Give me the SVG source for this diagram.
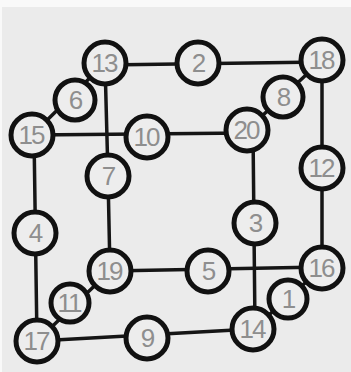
<svg xmlns="http://www.w3.org/2000/svg" width="351" height="372" viewBox="0 0 351 372">
<style>
.bg{fill:#ebebeb}
.e{stroke:#151515;stroke-width:3.5;stroke-linecap:round}
.n circle{fill:#ededed;stroke:#111;stroke-width:5}
.n text{font-family:"Liberation Sans",Arial,sans-serif;font-size:26px;fill:#8e8e8e;text-anchor:middle;dominant-baseline:central;letter-spacing:-2px}
</style>
<rect class="bg" x="0" y="0" width="351" height="372"/>
<rect x="0" y="0" width="351" height="7" fill="#f9f9f9"/>
<rect x="0" y="0" width="2" height="372" fill="#f9f9f9"/>
<g id="edges">
<line class="e" x1="105" y1="65" x2="322" y2="62"/>
<line class="e" x1="105" y1="63" x2="32" y2="135"/>
<line class="e" x1="322" y1="60" x2="247" y2="130"/>
<line class="e" x1="32" y1="135" x2="247" y2="133"/>
<line class="e" x1="105" y1="63" x2="108" y2="176"/>
<line class="e" x1="108" y1="176" x2="110" y2="271"/>
<line class="e" x1="322" y1="60" x2="322" y2="268"/>
<line class="e" x1="253" y1="130" x2="255" y2="329"/>
<line class="e" x1="34" y1="135" x2="37" y2="341"/>
<line class="e" x1="110" y1="271" x2="322" y2="267"/>
<line class="e" x1="110" y1="271" x2="37" y2="341"/>
<line class="e" x1="322" y1="268" x2="253" y2="329"/>
<line class="e" x1="37" y1="341" x2="253" y2="329"/>
</g>
<g id="n13" class="n"><circle cx="105" cy="63" r="21"/><text x="104" y="63">13</text></g>
<g id="n2" class="n"><circle cx="198" cy="63" r="21"/><text x="198" y="63">2</text></g>
<g id="n18" class="n"><circle cx="322" cy="60" r="21"/><text x="321" y="60">18</text></g>
<g id="n6" class="n"><circle cx="75" cy="100" r="20"/><text x="75" y="100">6</text></g>
<g id="n8" class="n"><circle cx="283" cy="97" r="20"/><text x="283" y="97">8</text></g>
<g id="n15" class="n"><circle cx="32" cy="135" r="21"/><text x="31" y="135">15</text></g>
<g id="n10" class="n"><circle cx="147" cy="137" r="21"/><text x="146" y="137">10</text></g>
<g id="n20" class="n"><circle cx="247" cy="130" r="21"/><text x="246" y="130">20</text></g>
<g id="n12" class="n"><circle cx="322" cy="168" r="21"/><text x="321" y="168">12</text></g>
<g id="n7" class="n"><circle cx="108" cy="176" r="21"/><text x="108" y="176">7</text></g>
<g id="n4" class="n"><circle cx="35" cy="233" r="21"/><text x="35" y="233">4</text></g>
<g id="n3" class="n"><circle cx="255" cy="223" r="21"/><text x="255" y="223">3</text></g>
<g id="n19" class="n"><circle cx="110" cy="271" r="21"/><text x="109" y="271">19</text></g>
<g id="n5" class="n"><circle cx="208" cy="271" r="21"/><text x="208" y="271">5</text></g>
<g id="n16" class="n"><circle cx="322" cy="268" r="21"/><text x="321" y="268">16</text></g>
<g id="n11" class="n"><circle cx="70" cy="303" r="19"/><text x="69" y="303">11</text></g>
<g id="n1" class="n"><circle cx="288" cy="299" r="19"/><text x="288" y="299">1</text></g>
<g id="n17" class="n"><circle cx="37" cy="341" r="21"/><text x="36" y="341">17</text></g>
<g id="n9" class="n"><circle cx="147" cy="338" r="21"/><text x="147" y="338">9</text></g>
<g id="n14" class="n"><circle cx="253" cy="329" r="21"/><text x="252" y="329">14</text></g>
</svg>
